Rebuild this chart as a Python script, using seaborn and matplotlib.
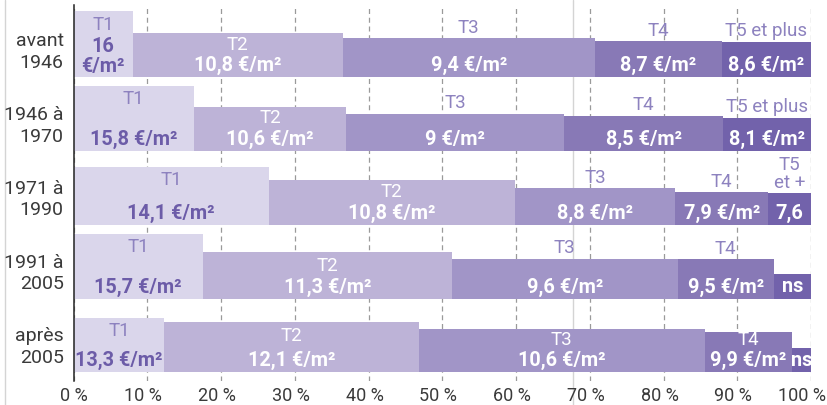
import numpy as np
import pandas as pd
import matplotlib
matplotlib.use("Agg")
import matplotlib.pyplot as plt
from matplotlib.lines import Line2D
from matplotlib.transforms import ScaledTranslation
import seaborn as sns

# Construction periods (rows, top to bottom)
periods = ["avant\n1946", "1946 à\n1970", "1971 à\n1990", "1991 à\n2005", "après\n2005"]
sizes = ["T1", "T2", "T3", "T4", "T5"]

# Share of dwellings of each size within each period (%)
share_t1 = [8.0, 16.3, 26.5, 17.5, 12.3]
share_t2 = [28.5, 20.7, 33.3, 33.8, 34.5]
share_t3 = [34.2, 29.5, 21.8, 30.6, 38.8]
share_t4 = [17.2, 21.6, 12.6, 13.1, 11.8]
share_t5 = [12.1, 11.9, 5.8, 5.0, 2.6]

# Median rent per m² (€); nan = not significant
rent_t1 = [16.0, 15.8, 14.1, 15.7, 13.3]
rent_t2 = [10.8, 10.6, 10.8, 11.3, 12.1]
rent_t3 = [9.4, 9.0, 8.8, 9.6, 10.6]
rent_t4 = [8.7, 8.5, 7.9, 9.5, 9.9]
rent_t5 = [8.6, 8.1, 7.6, np.nan, np.nan]
ns_height = 6.0  # drawn height for "ns" cells

# Size captions per row (T5 caption varies with available room)
t5_captions = ["T5 et plus", "T5 et plus", "T5\net +", "", ""]

x_ticks = [0, 10, 20, 30, 40, 50, 60, 70, 80, 90, 100]
x_tick_labels = [f"{v} %" for v in x_ticks]

colors = ["#dad6eb", "#bdb3d7", "#a195c7", "#8879b6", "#7262ab"]
dark_purple = "#6c5ca8"
mid_purple = "#8d82bf"

sns.set_theme(style="white")
plt.rcParams["font.family"] = ["Roboto", "DejaVu Sans"]

shares = np.array([share_t1, share_t2, share_t3, share_t4, share_t5]).T
rents = np.array([rent_t1, rent_t2, rent_t3, rent_t4, rent_t5]).T

rows = []
for i, p in enumerate(periods):
    left = 0.0
    for j, s in enumerate(sizes):
        w = shares[i, j]
        rows.append(dict(period=p, row=i, size=s, col=j, left=left,
                         share=w, rent=rents[i, j]))
        left += w
df = pd.DataFrame(rows)

row_step = 17.9
first_base = -17.5
df["base"] = first_base - row_step * df["row"]
df["height"] = df["rent"].fillna(ns_height)


def fr(v):
    s = f"{v:.1f}".rstrip("0").rstrip(".")
    return s.replace(".", ",")


fig = plt.figure(figsize=(8.27, 4.05), dpi=100)
ax = fig.add_axes([73.5 / 827, 24 / 405, 737.5 / 827, 376 / 405])
ax.set_facecolor("none")

# faint frame lines of the page layout
for xf in (5 / 827, 573 / 827):
    fig.add_artist(Line2D([xf, xf], [0, 1], transform=fig.transFigure,
                          color="#d4d4d4", lw=1.0, zorder=-5))

ax.bar(df["left"], df["height"], width=df["share"], bottom=df["base"],
       align="edge", color=[colors[c] for c in df["col"]], linewidth=0, zorder=2)

for _, r in df.iterrows():
    cx = r["left"] + r["share"] / 2
    top = r["base"] + r["height"]
    # value label
    if np.isnan(r["rent"]):
        txt, two = "ns", False
    elif r["share"] < 7:
        txt, two = fr(r["rent"]), False
    elif r["share"] < 10:
        txt, two = fr(r["rent"]) + "\n€/m²", True
    else:
        txt, two = fr(r["rent"]) + " €/m²", False
    vcol = dark_purple if r["col"] == 0 else "white"
    vy = r["base"] + (5.0 if two else 2.8)
    ax.text(cx, vy, txt, ha="center", va="center", color=vcol,
            fontsize=14.3, fontweight="bold", linespacing=1.05, zorder=4)
    # size caption
    cap = r["size"] if r["col"] < 4 else t5_captions[r["row"]]
    if not cap:
        continue
    inside = (not np.isnan(r["rent"])) and r["rent"] >= 9.8
    if inside:
        ccol = mid_purple if r["col"] == 0 else "white"
        cy = max(top - 3.3, r["base"] + 7.9)
        ax.text(cx, cy, cap, ha="center", va="center", color=ccol,
                fontsize=13.5, fontweight="normal", zorder=4)
    else:
        ax.text(cx, top + 0.4, cap, ha="center", va="bottom", color=mid_purple,
                fontsize=13.5, fontweight="normal", linespacing=1.0, zorder=4)

ax.set_xlim(0, 100)
ax.set_ylim(-91.2, 0)
ax.set_xticks(x_ticks)
ax.set_xticklabels(x_tick_labels)
centers = [first_base - row_step * i + 7.0 for i in range(len(periods))]
ax.set_yticks(centers)
ax.set_yticklabels(periods, ha="right", linespacing=1.25)
ax.tick_params(axis="x", length=0, pad=4, labelsize=13, labelcolor="#3a3a3a")
ax.tick_params(axis="y", length=0, pad=7, labelsize=14, labelcolor="#3a3a3a")

# nudge the percent labels slightly left; keep the last one inside the canvas
xlabels = ax.get_xticklabels()
for lbl in xlabels[1:-1]:
    lbl.set_transform(lbl.get_transform() + ScaledTranslation(-4 / 100, 0, fig.dpi_scale_trans))
xlabels[-1].set_horizontalalignment("right")
xlabels[-1].set_transform(xlabels[-1].get_transform() + ScaledTranslation(15 / 100, 0, fig.dpi_scale_trans))

ax.grid(axis="x", color="#9a9a9a", linestyle=(0, (4, 3)), linewidth=0.9, zorder=0)
ax.grid(axis="y", visible=False)
ax.set_axisbelow(True)
for side in ("top", "right", "bottom"):
    ax.spines[side].set_visible(False)
ax.spines["left"].set_color("#222222")
ax.spines["left"].set_linewidth(1.1)
ax.spines["left"].set_zorder(5)

fig.savefig("out.png", dpi=100)
